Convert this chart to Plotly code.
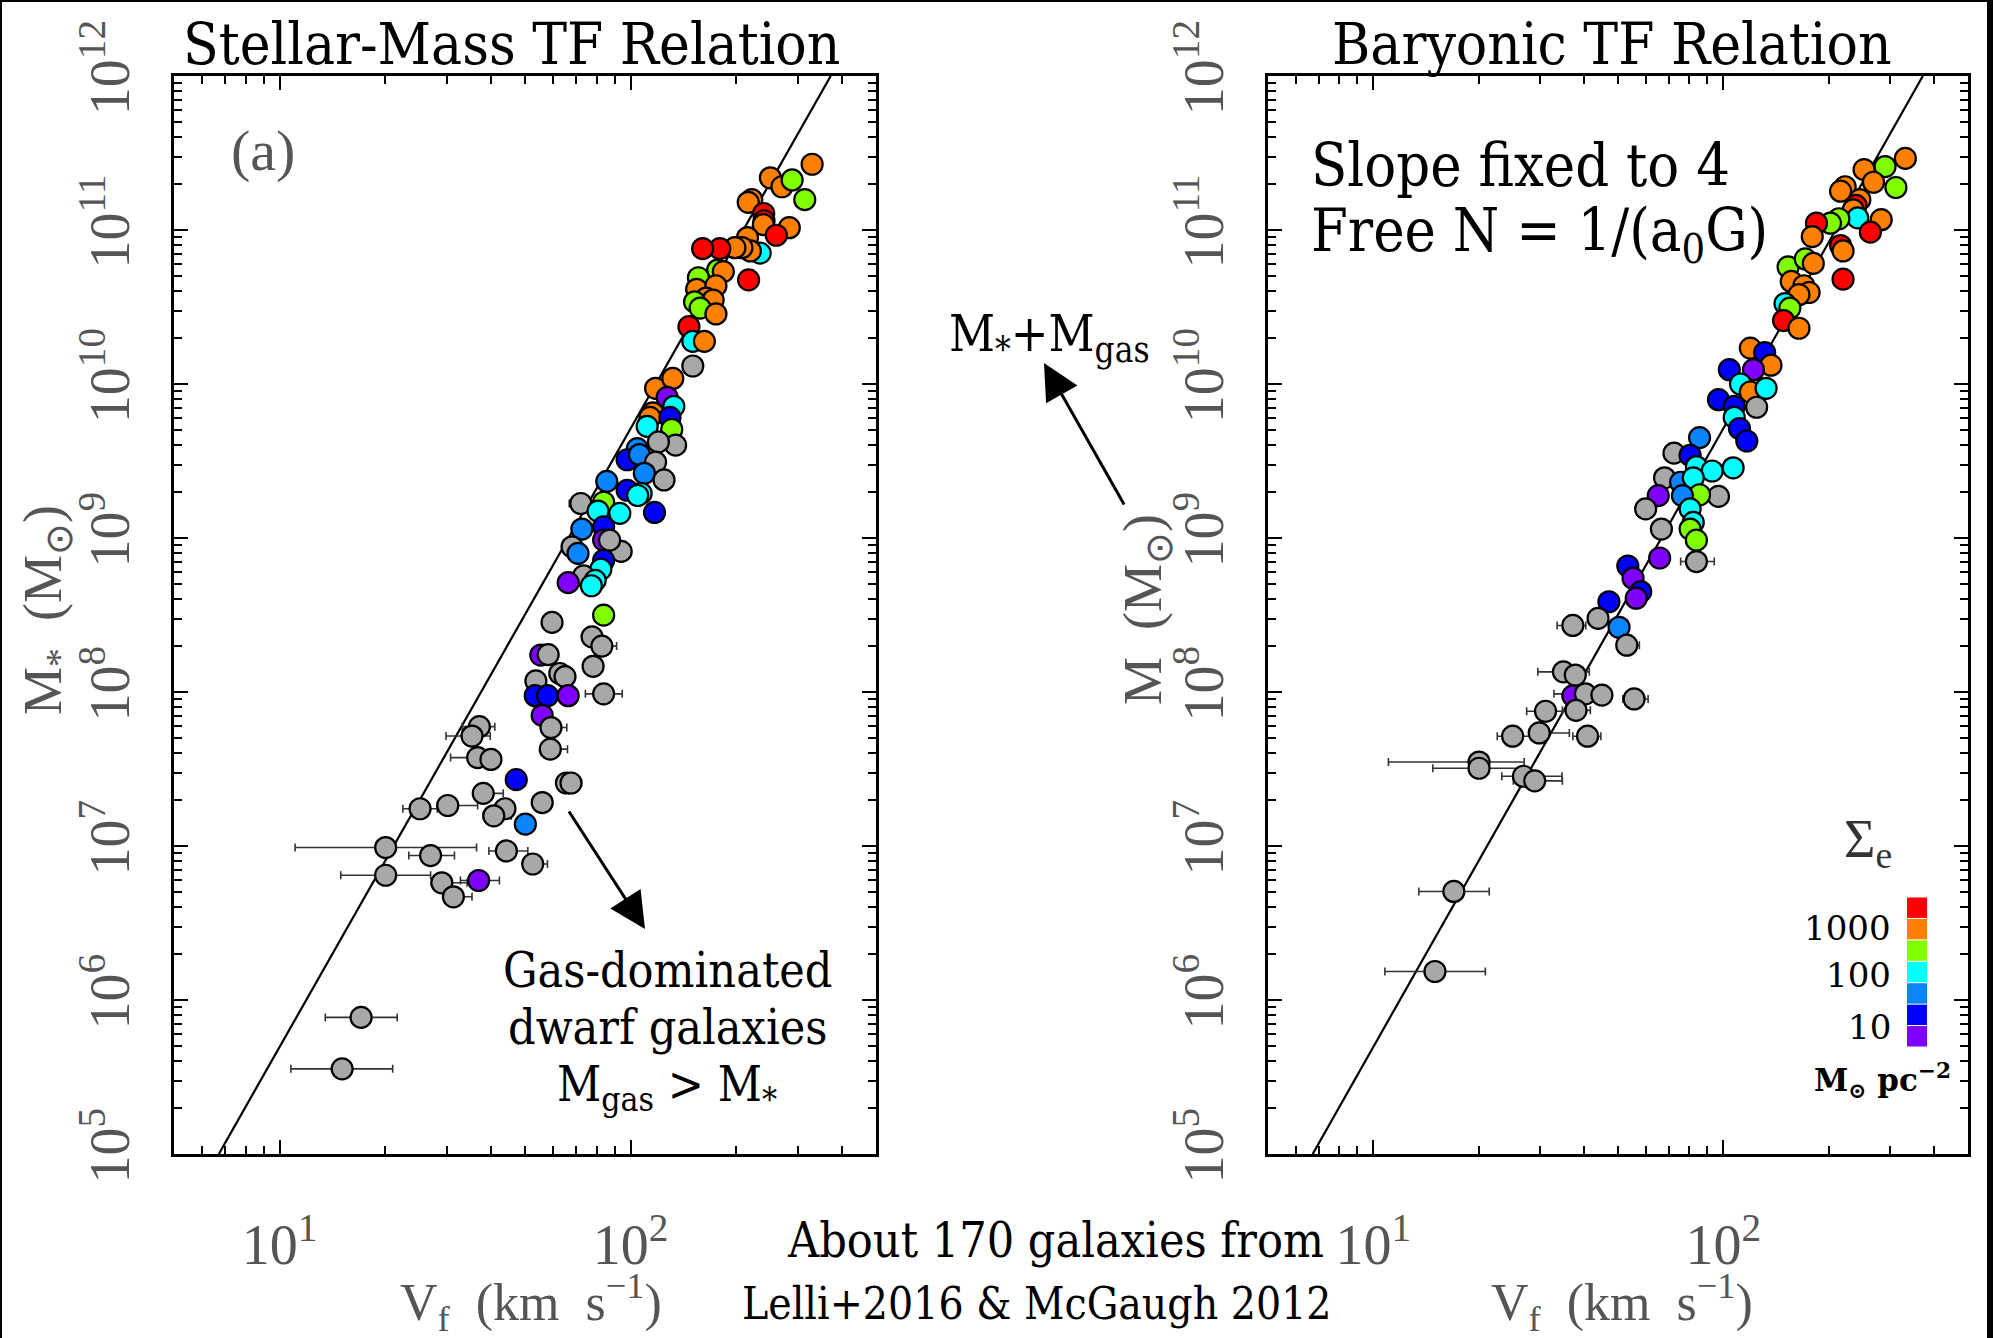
import numpy as np
import plotly.graph_objects as go

W, H = 1993, 1338

# ---------------- data (log10 units) ----------------
cat_colors = {"P": "#8000ff", "B": "#0000ff", "A": "#0a84ff", "C": "#00ffff",
              "G": "#80ff00", "O": "#ff8000", "R": "#ff0000", "N": "#a8a8a8"}
legend_order = ["R", "O", "G", "C", "A", "B", "P"]
legend_labels = ["1000", "100", "10"]

left_logv = [2.517, 2.398, 2.431, 2.460, 2.496, 2.345, 2.335, 2.379, 2.380, 2.378,
             2.452, 2.415, 2.333, 2.369, 2.341, 2.317, 2.297, 2.254, 2.205, 2.336,
             2.248, 2.264, 2.193, 2.188, 2.243, 2.215, 2.235, 2.182, 2.198, 2.243,
             2.166, 2.177, 2.210, 2.177, 2.071, 2.120, 2.104, 2.123, 2.063, 2.055,
             2.047, 2.112, 2.117, 2.128, 2.079, 2.019, 1.990, 2.025, 2.071, 2.039,
             2.095, 1.932, 1.990, 2.030, 2.020, 2.068, 1.858, 1.923, 1.907, 1.969,
             1.923, 1.861, 1.923, 1.833, 1.850, 1.973, 1.940, 1.923, 1.915, 1.866,
             1.899, 1.888, 1.822, 1.923, 1.776, 1.890, 1.918, 1.744, 1.765, 1.893,
             1.798, 1.813, 1.730, 1.728, 1.763, 1.822, 1.923, 1.748, 1.773, 1.771,
             1.569, 1.548, 1.564, 1.602, 1.674, 1.817, 1.830, 1.580, 1.400, 1.479,
             1.642, 1.610, 1.748, 1.700, 1.302, 1.430, 1.646, 1.721, 1.302, 1.462,
             1.567, 1.495, 1.232, 1.178]
left_logm = [11.427, 11.339, 11.281, 11.325, 11.197, 11.197, 11.180, 11.107, 11.060, 11.035,
             11.015, 10.966, 10.951, 10.850, 10.864, 10.885, 10.885, 10.879, 10.879, 10.676,
             10.740, 10.730, 10.690, 10.615, 10.638, 10.557, 10.545, 10.533, 10.493, 10.455,
             10.372, 10.277, 10.277, 10.117, 9.972, 10.036, 9.913, 9.855, 9.812, 9.783,
             9.725, 9.783, 9.705, 9.603, 9.624, 9.580, 9.508, 9.542, 9.493, 9.420,
             9.377, 9.368, 9.310, 9.290, 9.276, 9.166, 9.224, 9.232, 9.175, 9.160,
             9.073, 9.058, 8.987, 8.943, 8.900, 8.913, 8.986, 8.855, 8.797, 8.754,
             8.725, 8.690, 8.710, 8.499, 8.452, 8.358, 8.298, 8.240, 8.243, 8.167,
             8.120, 8.100, 8.072, 7.976, 7.976, 7.976, 7.988, 7.848, 7.769, 7.629,
             7.775, 7.714, 7.574, 7.562, 7.431, 7.409, 7.409, 7.342, 7.242, 7.263,
             7.242, 7.196, 7.282, 7.142, 6.990, 6.938, 6.968, 6.883, 6.810, 6.761,
             6.776, 6.670, 5.887, 5.553]
left_cat = list("OOOGGOORRO" "OROCOOORRR" "GOGOOOOGGO" "RCONOOPCOO"
                "CBGNNABANA" "NABCCBNGCC" "BAPNANNBCN" "CCPGNNNPNN"
                "NNNBBPNPNN" "NNNNBNNNNN" "NNNANNNNNN" "PNNN")

left_eb_logv = [1.302, 1.302, 1.430, 1.462, 1.495, 1.569, 1.548, 1.564, 1.400, 1.479,
                1.580, 1.610, 1.646, 1.721, 1.567, 1.232, 1.178, 1.923, 1.773, 1.771,
                1.817, 1.748, 1.918, 1.858, 2.095]
left_eb_logm = [6.990, 6.810, 6.938, 6.761, 6.670, 7.775, 7.714, 7.574, 7.242, 7.263,
                7.342, 7.196, 6.968, 6.883, 6.776, 5.887, 5.553, 7.988, 7.769, 7.629,
                7.409, 7.282, 8.298, 9.224, 9.377]
left_eb_lo = [1.044, 1.174, 1.368, 1.433, 1.478, 1.520, 1.474, 1.487, 1.351, 1.449,
              1.555, 1.580, 1.596, 1.694, 1.515, 1.130, 1.032, 1.871, 1.745, 1.745,
              1.790, 1.725, 1.900, 1.825, 2.070]
left_eb_hi = [1.561, 1.430, 1.498, 1.534, 1.548, 1.613, 1.600, 1.629, 1.449, 1.564,
              1.637, 1.660, 1.707, 1.763, 1.626, 1.335, 1.322, 1.976, 1.818, 1.820,
              1.860, 1.770, 1.960, 1.890, 2.120]

right_logv = [2.520, 2.462, 2.402, 2.429, 2.493, 2.348, 2.335, 2.390, 2.379, 2.371,
              2.384, 2.330, 2.306, 2.451, 2.420, 2.266, 2.254, 2.335, 2.342, 2.342,
              2.185, 2.234, 2.257, 2.194, 2.230, 2.245, 2.216, 2.176, 2.190, 2.172,
              2.216, 2.077, 2.118, 2.136, 2.086, 2.017, 2.049, 2.077, 2.122, 1.986,
              2.031, 2.095, 2.031, 2.046, 2.067, 1.932, 1.859, 1.905, 1.923, 2.028,
              1.968, 1.832, 1.878, 1.914, 1.986, 1.814, 1.932, 1.883, 1.778, 1.905,
              1.914, 1.823, 1.905, 1.923, 1.818, 1.923, 1.727, 1.742, 1.764, 1.751,
              1.673, 1.642, 1.570, 1.702, 1.724, 1.543, 1.577, 1.570, 1.606, 1.653,
              1.745, 1.492, 1.579, 1.398, 1.474, 1.612, 1.302, 1.302, 1.429, 1.461,
              1.230, 1.176]
right_logm = [11.465, 11.412, 11.392, 11.310, 11.276, 11.281, 11.252, 11.197, 11.160, 11.131,
              11.079, 11.073, 11.044, 11.067, 10.986, 11.044, 10.957, 10.899, 10.864, 10.681,
              10.760, 10.812, 10.783, 10.666, 10.638, 10.594, 10.580, 10.522, 10.493, 10.412,
              10.362, 10.233, 10.204, 10.122, 10.093, 10.093, 10.000, 9.948, 9.972, 9.898,
              9.855, 9.849, 9.783, 9.711, 9.630, 9.652, 9.551, 9.537, 9.464, 9.456,
              9.435, 9.391, 9.362, 9.391, 9.270, 9.275, 9.281, 9.275, 9.189, 9.189,
              9.101, 9.058, 9.058, 8.986, 8.870, 8.847, 8.818, 8.739, 8.652, 8.609,
              8.586, 8.478, 8.432, 8.420, 8.304, 8.131, 8.110, 7.975, 7.988, 7.980,
              7.955, 7.875, 7.881, 7.713, 7.734, 7.713, 7.545, 7.505, 7.453, 7.423,
              6.705, 6.185]
right_cat = list("OGOOGOOORO" "CGGORROROR" "GGOOOOOCGR" "OOBOPBCOCB"
                 "BNCBBANBCC" "CNACNPGANC" "CNGGPNBPBP" "BNNANNNPNN"
                 "NNNNNNNNNN" "NN")

right_eb_logv = [1.302, 1.302, 1.429, 1.461, 1.398, 1.474, 1.492, 1.612, 1.230, 1.176,
                 1.606, 1.745, 1.543, 1.570, 1.724, 1.923, 1.579]
right_eb_logm = [7.545, 7.505, 7.453, 7.423, 7.713, 7.734, 7.875, 7.713, 6.705, 6.185,
                 7.988, 7.955, 8.131, 8.432, 8.304, 8.847, 7.881]
right_eb_lo = [1.043, 1.170, 1.367, 1.400, 1.354, 1.444, 1.438, 1.570, 1.130, 1.033,
               1.516, 1.713, 1.470, 1.525, 1.697, 1.878, 1.540]
right_eb_hi = [1.431, 1.431, 1.539, 1.540, 1.450, 1.560, 1.575, 1.650, 1.331, 1.320,
               1.634, 1.785, 1.617, 1.607, 1.760, 1.974, 1.620]

fit_v = [6.71, 371.5]     # km/s, where the fitted line leaves the frame
fit_m = [1e5, 1e12]       # Msun

x_ticks = [10, 100]
x_ticktext = ["10<sup>1</sup>", "10<sup>2</sup>"]
y_exps = [5, 6, 7, 8, 9, 10, 11, 12]

# ---------------- figure ----------------
fig = go.Figure()

def px(x):
    return x / W

def py(y):
    return 1 - y / H


def add_panel(xa, ya, logv, logm, cats, eb_v, eb_m, eb_lo, eb_hi):
    v = 10 ** np.array(logv)
    m = 10 ** np.array(logm)
    ebv = 10 ** np.array(eb_v)
    ebm = 10 ** np.array(eb_m)
    lo = 10 ** np.array(eb_lo)
    hi = 10 ** np.array(eb_hi)
    fig.add_trace(go.Scatter(x=fit_v, y=fit_m, mode="lines", xaxis=xa, yaxis=ya,
                             line=dict(color="black", width=2.2), showlegend=False,
                             hoverinfo="skip"))
    fig.add_trace(go.Scatter(x=ebv, y=ebm, mode="markers", xaxis=xa, yaxis=ya,
                             marker=dict(size=1, opacity=0),
                             error_x=dict(type="data", symmetric=False,
                                          array=hi - ebv, arrayminus=ebv - lo,
                                          color="#333333", thickness=1.6, width=4),
                             showlegend=False, hoverinfo="skip"))
    fig.add_trace(go.Scatter(x=v, y=m, mode="markers", xaxis=xa, yaxis=ya,
                             marker=dict(size=21, color=[cat_colors[c] for c in cats],
                                         line=dict(color="black", width=2.2)),
                             showlegend=False))


add_panel("x", "y", left_logv, left_logm, left_cat,
          left_eb_logv, left_eb_logm, left_eb_lo, left_eb_hi)
add_panel("x2", "y2", right_logv, right_logm, right_cat,
          right_eb_logv, right_eb_logm, right_eb_lo, right_eb_hi)

tickfont = dict(family="Liberation Serif", size=56, color="#555555")
x_minor = [6, 7, 8, 9, 20, 30, 40, 50, 60, 70, 80, 90, 200, 300, 400]
y_minor = [j * 10.0 ** k for k in range(5, 12) for j in range(2, 10)]

xaxis_common = dict(type="log", range=[np.log10(5), np.log10(500)], automargin=False,
                    tickvals=x_ticks, ticktext=x_ticktext, tickfont=tickfont,
                    ticks="inside", ticklen=14, tickwidth=2, tickcolor="black",
                    showline=True, linewidth=3, linecolor="black", mirror="allticks",
                    showgrid=False, zeroline=False, ticklabelstandoff=40,
                    minor=dict(tickvals=x_minor, ticks="inside", ticklen=8,
                               tickwidth=2, tickcolor="black", showgrid=False))
yaxis_common = dict(type="log", range=[5, 12], automargin=False,
                    tickvals=[10.0 ** e for e in y_exps],
                    ticktext=["10<sup>%d</sup>" % e for e in y_exps],
                    tickfont=tickfont, tickangle=-90,
                    ticks="inside", ticklen=14, tickwidth=2, tickcolor="black",
                    showline=True, linewidth=3, linecolor="black", mirror="allticks",
                    showgrid=False, zeroline=False, ticklabelstandoff=20,
                    minor=dict(tickvals=y_minor, ticks="inside", ticklen=8,
                               tickwidth=2, tickcolor="black", showgrid=False))

ydom = [py(1154), py(76)]
fig.update_layout(
    width=W, height=H, margin=dict(l=0, r=0, t=0, b=0, pad=0), autosize=False,
    paper_bgcolor="white", plot_bgcolor="white",
    xaxis=dict(domain=[px(174), px(876)], anchor="y", **xaxis_common),
    yaxis=dict(domain=ydom, anchor="x", **yaxis_common),
    xaxis2=dict(domain=[px(1268), px(1968)], anchor="y2", **xaxis_common),
    yaxis2=dict(domain=ydom, anchor="x2", **yaxis_common),
    showlegend=False,
)

serif_c = "DejaVu Serif Condensed, DejaVu Serif"
title_font = dict(family=serif_c, size=58, color="black")
big_font = dict(family=serif_c, size=59, color="black")
mid_font = dict(family=serif_c, size=48, color="black")
label_font = dict(family="Liberation Serif", size=54, color="#555555")
xlabel_font = dict(family="Liberation Serif", size=52, color="#555555")
SP = "\u2002"

ann = []

def text(x, y, s, font, xanchor="center", yanchor="middle", angle=0):
    ann.append(dict(x=px(x), y=py(y), xref="paper", yref="paper", text=s,
                    showarrow=False, font=font, xanchor=xanchor, yanchor=yanchor,
                    textangle=angle))

text(512, 44, "Stellar-Mass TF Relation", title_font)
text(1612, 44, "Baryonic TF Relation", title_font)
text(531, 1302, "V<sub>f</sub>" + SP + "(km" + SP + "s<sup>\u22121</sup>)", xlabel_font)
text(1622, 1302, "V<sub>f</sub>" + SP + "(km" + SP + "s<sup>\u22121</sup>)", xlabel_font)
text(46, 610, "M<sub>*</sub>" + SP + "(M<sub>\u2299</sub>)", label_font, angle=-90)
text(1146, 610, "M" + SP + "(M<sub>\u2299</sub>)", label_font, angle=-90)
text(263, 150, "(a)", dict(family="Liberation Serif", size=58, color="#555555"))
text(1309, 165, "Slope fixed to 4", big_font, xanchor="left")
text(1309, 235, "Free N = 1/(a<sub>0</sub>G)", big_font, xanchor="left")
text(947, 337, "M<sub>*</sub>+M<sub>gas</sub>", dict(family=serif_c, size=50, color="black"),
     xanchor="left")
text(667, 970, "Gas-dominated", mid_font)
text(667, 1027, "dwarf galaxies", mid_font)
text(667, 1087, "M<sub>gas</sub> &gt; M<sub>*</sub>", mid_font)
text(1055, 1240, "About 170 galaxies from", dict(family=serif_c, size=48, color="black"))
text(1037, 1303, "Lelli+2016 &amp; McGaugh 2012", dict(family=serif_c, size=44, color="black"))

# colour-key labels
text(1868, 842, "\u03a3<sub>e</sub>", dict(family="Liberation Serif", size=54, color="#333333"))
key_font = dict(family="DejaVu Serif", size=34, color="black")
for lab, yy in zip(legend_labels, [928, 975, 1027]):
    text(1893, yy, lab, key_font, xanchor="right")
text(1882, 1080, "<b>M<sub>\u2299</sub> pc<sup>\u22122</sup></b>",
     dict(family="DejaVu Serif", size=31, color="black"))

# arrows (head, tail offset in pixels)
ann.append(dict(x=px(645), y=py(929), xref="paper", yref="paper", text="",
                showarrow=True, ax=-77, ay=-119, axref="pixel", ayref="pixel",
                arrowhead=2, arrowsize=2.4, arrowwidth=3, arrowcolor="black"))
ann.append(dict(x=px(1044), y=py(363), xref="paper", yref="paper", text="",
                showarrow=True, ax=81, ay=143, axref="pixel", ayref="pixel",
                arrowhead=2, arrowsize=2.4, arrowwidth=3, arrowcolor="black"))
fig.update_layout(annotations=ann)

shapes = []
# colour key squares
n = len(legend_order)
top, bot = 897, 1047
hgt = (bot - top) / n
for i, c in enumerate(legend_order):
    shapes.append(dict(type="rect", xref="paper", yref="paper",
                       x0=px(1907), x1=px(1927), y0=py(top + (i + 1) * hgt - 0.5),
                       y1=py(top + i * hgt + 0.5), fillcolor=cat_colors[c],
                       line=dict(width=0)))
# thin black page border
shapes.append(dict(type="rect", xref="paper", yref="paper", x0=0, x1=1, y0=py(2), y1=1,
                   fillcolor="black", line=dict(width=0)))
shapes.append(dict(type="rect", xref="paper", yref="paper", x0=0, x1=px(2), y0=0, y1=1,
                   fillcolor="black", line=dict(width=0)))
shapes.append(dict(type="rect", xref="paper", yref="paper", x0=px(1987), x1=1, y0=0, y1=1,
                   fillcolor="black", line=dict(width=0)))
fig.update_layout(shapes=shapes)

fig.write_html("out.html")
